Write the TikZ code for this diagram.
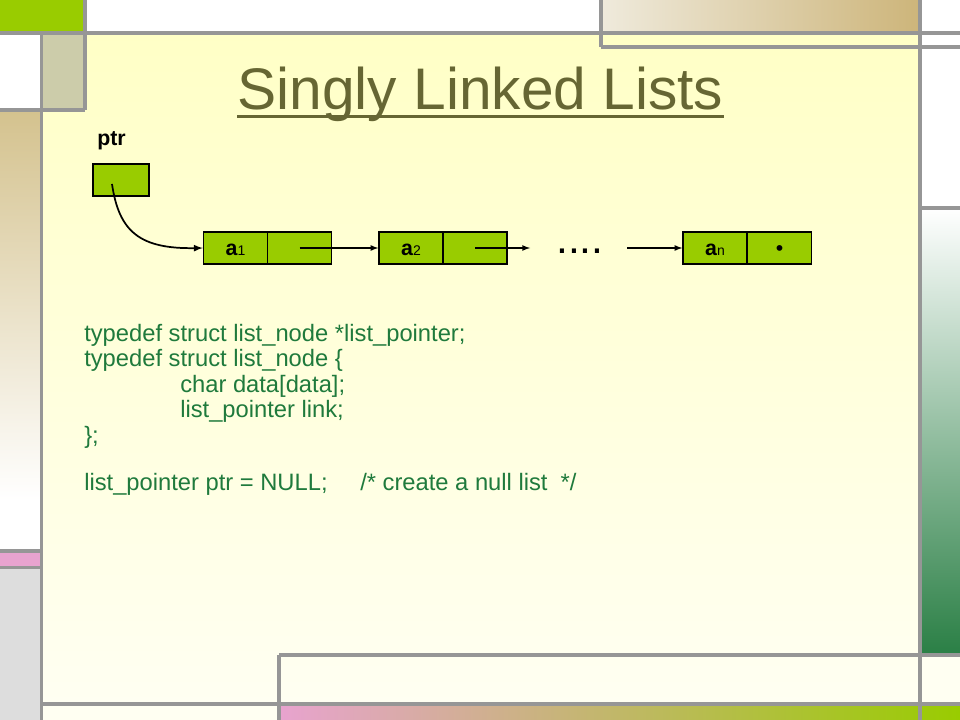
\documentclass[tikz,border=0pt]{standalone}
\usepackage{fontspec}
\setmainfont{Liberation Sans}
\definecolor{listgreen}{HTML}{99CC00}
\definecolor{framegray}{HTML}{969696}
\definecolor{titleolive}{HTML}{666633}
\definecolor{codegreen}{HTML}{1F7A3C}
\definecolor{paneltop}{HTML}{FFFFC6}
\definecolor{panelbottom}{HTML}{FFFFF2}
\definecolor{beigebox}{HTML}{CCCCAA}
\definecolor{tanstrip}{HTML}{D4C28E}
\definecolor{pinkstrip}{HTML}{E8A3CF}
\definecolor{darkgreen}{HTML}{2A7F45}
\definecolor{stripmid}{HTML}{C8D6CC}
\definecolor{lightgraybox}{HTML}{DDDDDD}
\definecolor{goldbar}{HTML}{CDB57A}
\definecolor{goldpale}{HTML}{EFEADC}
\newcommand{\cellsub}[1]{{\fontsize{10.5}{10.5}\selectfont\mdseries #1}}

\begin{document}
\begin{tikzpicture}[x=0.75pt,y=-0.75pt,
    frame/.style={framegray,line width=2.6pt},
    cell/.style={draw=black,fill=listgreen,line width=1pt,
        minimum width=48pt,minimum height=24pt,inner sep=0pt,
        text height=12pt,text depth=0pt,
        font=\fontsize{16}{18}\selectfont\bfseries},
    codeline/.style={anchor=base west,inner sep=0pt,text=codegreen,
        font=\fontsize{17.8}{21}\selectfont},
    link/.style={-latex,line width=1pt}]
    \useasboundingbox (0,0) rectangle (960,720);

    % background of the slide
    \fill[white] (0,0) rectangle (960,720);
    \shade[top color=paneltop,bottom color=panelbottom] (41,33) rectangle (920,704);
    \fill[panelbottom] (920,655) rectangle (960,720);
    \fill[panelbottom] (41,704) rectangle (279,720);
    \fill[listgreen] (0,0) rectangle (85,33);
    \fill[beigebox] (41,33) rectangle (85,110);
    \shade[top color=tanstrip,bottom color=white] (0,110) rectangle (41,500);
    \fill[pinkstrip] (0,551) rectangle (41,567);
    \fill[lightgraybox] (0,567) rectangle (41,720);
    \shade[left color=goldpale,right color=goldbar] (601,0) rectangle (920,33);
    \shade[top color=white,middle color=stripmid,bottom color=darkgreen] (920,208) rectangle (960,655);
    \shade[left color=pinkstrip,right color=listgreen] (279,704) rectangle (960,720);

    \draw[frame] (0,33) -- (960,33);
    \draw[frame] (85,0) -- (85,110);
    \draw[frame] (0,110) -- (85,110);
    \draw[frame] (41.5,33) -- (41.5,720);
    \draw[frame] (601,0) -- (601,47);
    \draw[frame] (601,47) -- (960,47);
    \draw[frame] (920,0) -- (920,720);
    \draw[frame] (920,208) -- (960,208);
    \draw[frame] (279,655) -- (960,655);
    \draw[frame] (279,655) -- (279,720);
    \draw[frame] (41.5,704) -- (960,704);
    \draw[frame] (0,551) -- (41.5,551);
    \draw[frame] (0,567.5) -- (41.5,567.5);

    % title
    \node[anchor=base,inner sep=0pt,text=titleolive,font=\fontsize{44}{50}\selectfont] (title) at (480.5,110) {Singly Linked Lists};
    \draw[titleolive,line width=2.25pt] ([yshift=-5.25pt]title.base west) -- ([yshift=-5.25pt]title.base east);

    % the list
    \node[anchor=base west,inner sep=0pt,font=\fontsize{16}{18}\selectfont\bfseries] (ptrlabel) at (97,146) {ptr};
    \node[cell,minimum width=42pt] (ptrbox) at (121,180) {};

    \node[cell] (a1d) at (235.5,248) {a\cellsub{1}};
    \node[cell] (a1l) at (299.5,248) {};
    \node[cell] (a2d) at (411,248) {a\cellsub{2}};
    \node[cell] (a2l) at (475,248) {};
    \node[cell] (and) at (715,248) {a\cellsub{n}};
    \node[cell] (anl) at (779.5,248) {\mdseries •};

    \node[anchor=base west,inner sep=0pt,font=\fontsize{32}{32}\selectfont] (dots) at (556,254) {....};
    \coordinate (gapin) at (530,248);
    \coordinate (gapout) at (627,248);

    \draw[link,line width=1.3pt] ([xshift=-6.75pt,yshift=-3pt]ptrbox.center)
        .. controls (119,232) and (140,249) .. (a1d.west);
    \draw[link] (a1l.center) -- (a2d.west);
    \draw[link] (a2l.center) -- (gapin);
    \draw[link] (gapout) -- (and.west);

    % the code
    \node[codeline] (decl) at (84,341) {typedef struct list\_node *list\_pointer;};
    \node[codeline] (open) at (84,366.5) {typedef struct list\_node \{};
    \node[codeline] (field1) at (180,392) {char data[data];};
    \node[codeline] (field2) at (180,417.5) {list\_pointer link;};
    \node[codeline] (close) at (84,443) {\};};
    \node[codeline] (init) at (84,490) {list\_pointer ptr = NULL;};
    \node[codeline] (note) at (360,490) {/* create a null list\ \ */};
\end{tikzpicture}
\end{document}
